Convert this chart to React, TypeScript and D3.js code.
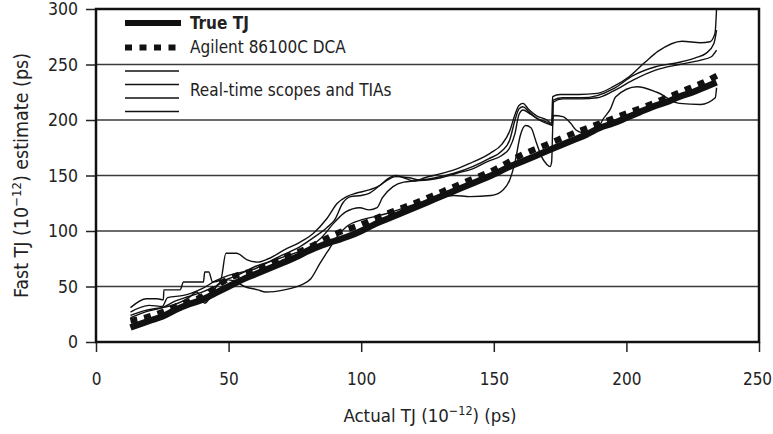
import { useEffect, useRef } from "react";
import * as d3 from "d3";

type Pt = [number, number];

const xTicks = [0, 50, 100, 150, 200, 250];
const yTicks = [0, 50, 100, 150, 200, 250, 300];

// thick reference line
const trueTJ: Pt[] = [
  [13, 13], [20, 19], [25, 23], [30, 29], [35, 34], [40, 38], [45, 44], [50, 50],
  [55, 56], [60, 61], [65, 66], [70, 71], [75, 76], [80, 82], [85, 87], [90, 91],
  [95, 95], [100, 100], [105, 106], [110, 111], [115, 116], [120, 121], [125, 126],
  [130, 131], [135, 136], [140, 141], [145, 146], [150, 151], [155, 157], [160, 162],
  [165, 167], [170, 172], [175, 177], [180, 182], [185, 187], [190, 193], [195, 197],
  [200, 202], [205, 207], [210, 212], [215, 216], [220, 221], [225, 225], [230, 230],
  [234, 234],
];

// dotted DCA estimate
const dcaTJ: Pt[] = [
  [13, 19], [20, 23], [25, 27], [30, 32], [40, 41], [50, 57], [60, 65], [70, 75],
  [80, 85], [90, 97], [100, 106], [110, 116], [120, 125], [130, 135], [140, 145],
  [150, 155], [160, 168], [170, 178], [180, 188], [190, 197], [200, 206], [210, 215],
  [220, 225], [230, 235], [235, 241],
];

// real-time scopes and TIAs
const scope1: Pt[] = [
  [13, 31], [19, 39], [23, 39], [25.4, 38], [25.6, 47], [31.7, 47], [33, 54], [40.5, 54],
  [41, 63], [42.5, 63], [44, 54], [47, 56], [49, 80], [53, 80], [57, 74], [61, 72],
  [65, 75], [71, 83], [77, 90], [82, 98], [87, 111], [91, 125], [94.5, 131], [98, 134],
  [103, 137], [107, 141], [110, 147], [113, 150], [116, 148], [120, 145], [124, 148],
  [129, 151], [135, 155], [141, 161], [148.6, 170], [153, 178], [156, 190], [158, 205],
  [159.5, 213], [161, 215], [163, 210], [166, 204], [170, 200], [171.8, 197], [172.2, 221],
  [175, 223], [182, 223], [189, 224], [195, 230], [201, 239], [207, 252], [212, 262],
  [221, 271], [228, 269.6], [231.5, 270.5], [233.4, 278], [234, 300],
];

const scope2: Pt[] = [
  [13, 27], [20, 33], [25, 32], [27, 40], [33, 42], [36, 44], [40, 48], [45, 55],
  [50, 60], [55, 63], [60, 66], [65, 72], [70, 78], [77, 86], [82, 94], [87, 103],
  [90, 110], [93, 125], [96, 131], [100, 132], [103, 134], [107, 141], [110, 146],
  [113, 149], [118, 148], [122, 146], [128, 148], [135, 152], [142, 158], [148, 165],
  [153, 172], [156, 182], [158, 200], [159.5, 210], [161, 212], [163, 208], [166, 202],
  [170, 198], [172, 196], [172.4, 218], [176, 220], [183, 220], [189, 222], [195, 228],
  [202.5, 240], [211, 248], [220, 252], [226, 256], [230, 260], [233, 269], [234, 281],
];

const scope3: Pt[] = [
  [13, 24], [18, 28], [22, 30], [25, 31], [30, 34], [35, 40], [38, 45], [41, 35],
  [43, 40], [46, 52], [50, 57], [55, 62], [60, 68], [65, 72], [70, 76], [75, 80],
  [80, 85], [85, 94], [90, 108], [94, 117], [99.5, 121], [103, 119], [106, 121],
  [108, 130], [112, 140], [116, 144], [120, 145], [125, 146], [130, 148], [136, 152],
  [142, 156], [148, 163], [153, 168], [156, 175], [158, 188], [159.5, 205], [161, 209],
  [164, 205], [167, 200], [171, 196], [172.2, 195], [172.4, 216], [176, 219], [183, 219],
  [189, 220], [195, 226], [202.5, 236], [211, 245], [220, 250], [228, 254], [232, 257],
  [234, 263],
];

const scope4: Pt[] = [
  [13, 22], [20, 28], [25, 31], [30, 37], [35, 41], [40, 45], [45, 50], [50, 56],
  [53, 54], [56, 50], [61, 47], [64, 45], [71, 47], [77, 51], [81, 57], [84.5, 71],
  [88, 84], [91, 95], [94.5, 104], [100, 110], [105, 113], [110, 116], [115, 120],
  [120, 124], [128, 129], [135, 132], [141, 131], [149, 132], [153.5, 137], [156, 146],
  [158, 162], [160, 186], [162, 195], [164, 193], [166, 180], [168, 167], [170, 160],
  [171.2, 158], [171.8, 162], [172.4, 204], [176, 203], [179, 197], [181, 191],
  [184, 188], [186, 187], [189, 191], [191, 200], [194, 210], [196, 221], [204, 230],
  [211.5, 225], [220, 215], [228, 214], [233.5, 220], [234, 229],
];

const scopeLines = [scope1, scope2, scope3, scope4];

const FONT = "'DejaVu Sans Condensed', 'Liberation Sans Narrow', sans-serif";

const App: React.FC = () => {
  const chartRef = useRef<HTMLDivElement>(null);

  useEffect(() => {
    const width = 773;
    const height = 434;
    const left = 96, right = 759, top = 9, bottom = 342;

    const svg = d3
      .select(chartRef.current)
      .html("")
      .append("svg")
      .attr("width", width)
      .attr("height", height)
      .style("position", "absolute")
      .style("left", "0px")
      .style("top", "0px")
      .style("background", "#fff")
      .style("font-family", FONT);

    const x = d3.scaleLinear().domain([0, 250]).range([left, right]);
    const y = d3.scaleLinear().domain([0, 300]).range([bottom, top]);

    // horizontal gridlines
    svg
      .append("g")
      .selectAll("line")
      .data(yTicks.filter((t) => t > 0 && t < 300))
      .enter()
      .append("line")
      .attr("x1", left)
      .attr("x2", right)
      .attr("y1", (d) => y(d))
      .attr("y2", (d) => y(d))
      .attr("stroke", "#3a3a3a")
      .attr("stroke-width", 1.3);

    // y axis ticks + labels
    const yAxis = d3.axisLeft(y).tickValues(yTicks).tickSize(10).tickPadding(8);
    const gy = svg.append("g").attr("transform", `translate(${left},0)`).call(yAxis);
    gy.select(".domain").remove();
    gy.selectAll(".tick line").attr("stroke", "#222").attr("stroke-width", 1.5);
    gy.selectAll(".tick text")
      .attr("font-family", FONT)
      .attr("font-size", 17.5)
      .attr("fill", "#222");

    // x axis ticks + labels
    const xAxis = d3.axisBottom(x).tickValues(xTicks).tickSize(10).tickPadding(21);
    const gx = svg.append("g").attr("transform", `translate(0,${bottom})`).call(xAxis);
    gx.select(".domain").remove();
    gx.selectAll(".tick line").attr("stroke", "#222").attr("stroke-width", 1.5);
    gx.selectAll(".tick text")
      .attr("font-family", FONT)
      .attr("font-size", 17)
      .attr("fill", "#222")
      .attr("dx", (d) => ((d as number) === 250 ? -2 : 0));

    const line = d3
      .line<Pt>()
      .x((d) => x(d[0]))
      .y((d) => y(d[1]))
      .curve(d3.curveMonotoneX);

    const plot = svg.append("g");

    // scope lines
    plot
      .selectAll(".scope")
      .data(scopeLines)
      .enter()
      .append("path")
      .attr("class", "scope")
      .attr("d", (d) => line(d))
      .attr("fill", "none")
      .attr("stroke", "#111")
      .attr("stroke-width", 1.4);

    // true TJ
    plot
      .append("path")
      .attr("d", line(trueTJ))
      .attr("fill", "none")
      .attr("stroke", "#111")
      .attr("stroke-width", 6.5);

    // DCA dotted
    plot
      .append("path")
      .attr("d", line(dcaTJ))
      .attr("fill", "none")
      .attr("stroke", "#111")
      .attr("stroke-width", 6)
      .attr("stroke-dasharray", "7 7");

    // frame
    svg
      .append("rect")
      .attr("x", left)
      .attr("y", top)
      .attr("width", right - left)
      .attr("height", bottom - top)
      .attr("fill", "none")
      .attr("stroke", "#111")
      .attr("stroke-width", 2.5);

    // legend
    const lg = svg.append("g");
    lg.append("line")
      .attr("x1", 125).attr("x2", 181).attr("y1", 23).attr("y2", 23)
      .attr("stroke", "#111").attr("stroke-width", 6);
    lg.append("text")
      .attr("x", 190).attr("y", 29)
      .attr("font-size", 17).attr("font-weight", "bold").attr("fill", "#222")
      .text("True TJ");
    lg.append("line")
      .attr("x1", 125).attr("x2", 176).attr("y1", 47.5).attr("y2", 47.5)
      .attr("stroke", "#111").attr("stroke-width", 6)
      .attr("stroke-dasharray", "7 7.5");
    lg.append("text")
      .attr("x", 190).attr("y", 53)
      .attr("font-size", 17).attr("fill", "#222")
      .text("Agilent 86100C DCA");
    lg.selectAll(".lgscope")
      .data([71, 84.5, 98, 111.5])
      .enter()
      .append("line")
      .attr("x1", 125).attr("x2", 179)
      .attr("y1", (d) => d).attr("y2", (d) => d)
      .attr("stroke", "#111").attr("stroke-width", 1.4);
    lg.append("text")
      .attr("x", 190).attr("y", 96)
      .attr("font-size", 17).attr("fill", "#222")
      .text("Real-time scopes and TIAs");

    // axis titles
    const xt = svg
      .append("text")
      .attr("x", 430)
      .attr("y", 422)
      .attr("text-anchor", "middle")
      .attr("font-size", 18.5)
      .attr("fill", "#222");
    xt.append("tspan").text("Actual TJ (10");
    xt.append("tspan").attr("dy", -7).attr("font-size", 12.5).text("\u221212");
    xt.append("tspan").attr("dy", 7).text(") (ps)");

    const yt = svg
      .append("text")
      .attr("transform", `translate(28,${(top + bottom) / 2}) rotate(-90)`)
      .attr("text-anchor", "middle")
      .attr("font-size", 19.5)
      .attr("fill", "#222");
    yt.append("tspan").text("Fast TJ (10");
    yt.append("tspan").attr("dy", -7).attr("font-size", 13).text("\u221212");
    yt.append("tspan").attr("dy", 7).text(") estimate (ps)");
  }, []);

  return <div ref={chartRef}></div>;
};

export default App;
